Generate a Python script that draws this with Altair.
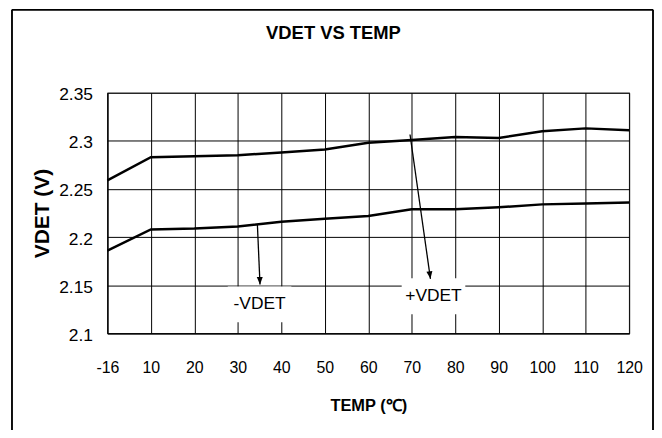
import altair as alt
import pandas as pd

# ---- data ----
TEMPS = [-16, 10, 20, 30, 40, 50, 60, 70, 80, 90, 100, 110, 120]
VDET_PLUS = [2.259, 2.283, 2.284, 2.285, 2.288, 2.291, 2.298, 2.301, 2.304, 2.303, 2.310, 2.313, 2.311]
VDET_MINUS = [2.186, 2.208, 2.209, 2.211, 2.216, 2.219, 2.222, 2.229, 2.229, 2.231, 2.234, 2.235, 2.236]
Y_TICKS = [2.1, 2.15, 2.2, 2.25, 2.3, 2.35]

# annotations (x in category-index units, y in volts)
ANN_TEXT = ["-VDET", "+VDET"]
ANN_X = [3.5, 7.5]
ANN_Y = [2.130, 2.1385]
ARROW_X0 = [3.45, 6.96]
ARROW_Y0 = [2.2128, 2.3066]
ARROW_X1 = [3.51, 7.43]
ARROW_Y1 = [2.1507, 2.1566]
ARROW_ANGLE = [358, 352]

FONT = "Liberation Sans, Arial, Helvetica, sans-serif"

idx = list(range(len(TEMPS)))
lines_df = pd.DataFrame({
    "i": idx * 2,
    "v": VDET_PLUS + VDET_MINUS,
    "s": ["+VDET"] * len(idx) + ["-VDET"] * len(idx),
})
ann_df = pd.DataFrame({"t": ANN_TEXT, "x": ANN_X, "y": ANN_Y})
arr_df = pd.DataFrame({"x0": ARROW_X0, "y0": ARROW_Y0, "x1": ARROW_X1, "y1": ARROW_Y1, "a": ARROW_ANGLE})

label_expr = "[" + ",".join("'%d'" % t for t in TEMPS) + "][datum.value]"

xscale = alt.Scale(domain=[0, len(TEMPS) - 1], nice=False, zero=False)
yscale = alt.Scale(domain=[2.1, 2.35], nice=False, zero=False)

xaxis = alt.Axis(
    values=idx, labelExpr=label_expr, grid=True, gridColor="black", gridWidth=1,
    ticks=False, tickSize=0, domainColor="black", domainWidth=1.2,
    labelFont=FONT, labelFontSize=16, labelColor="black", labelPadding=26,
    labelAngle=0, labelFlush=False, labelOverlap=False,
    title="TEMP (℃)", titleFont=FONT, titleFontSize=16.5, titleFontWeight="bold",
    titleColor="black", titleY=78, titleBaseline="alphabetic",
)
yaxis = alt.Axis(
    values=Y_TICKS, format=".2~f", grid=True, gridColor="black", gridWidth=1,
    ticks=False, tickSize=0, domainColor="black", domainWidth=1.2,
    labelFont=FONT, labelFontSize=17.5, labelColor="black", labelPadding=15,
    labelOffset=2,
    title="VDET (V)", titleFont=FONT, titleFontSize=21, titleFontWeight="bold",
    titleColor="black", titleAngle=270, titleX=-65, titleY=121,
    titleBaseline="middle", titleAlign="center",
)

base_lines = alt.Chart(lines_df).mark_line(color="black", strokeWidth=2.5).encode(
    x=alt.X("i:Q", scale=xscale, axis=xaxis),
    y=alt.Y("v:Q", scale=yscale, axis=yaxis),
    detail="s:N",
)

boxes = alt.Chart(ann_df).mark_rect(color="white", width=64, height=36).encode(
    x=alt.X("x:Q", scale=xscale), y=alt.Y("y:Q", scale=yscale)
)
texts = alt.Chart(ann_df).mark_text(font=FONT, fontSize=17.5, color="black",
                                    align="center", baseline="middle").encode(
    x=alt.X("x:Q", scale=xscale), y=alt.Y("y:Q", scale=yscale), text="t:N"
)
arrows = alt.Chart(arr_df).mark_rule(color="black", strokeWidth=1.3).encode(
    x=alt.X("x0:Q", scale=xscale), y=alt.Y("y0:Q", scale=yscale),
    x2="x1:Q", y2="y1:Q",
)
heads = alt.Chart(arr_df).mark_point(
    shape="M0,0L-0.4,-1L0.4,-1Z", filled=True, color="black", size=230, opacity=1
).encode(
    x=alt.X("x1:Q", scale=xscale), y=alt.Y("y1:Q", scale=yscale),
    angle=alt.Angle("a:Q", scale=None),
)

# outer frame (decoration)
frame_l = alt.Chart(ann_df).mark_rule(color="black", strokeWidth=1.5).encode(
    x=alt.value(-96), y=alt.value(-83.5), y2=alt.value(340))
frame_r = alt.Chart(ann_df).mark_rule(color="black", strokeWidth=1.5).encode(
    x=alt.value(549), y=alt.value(-83.5), y2=alt.value(340))
frame_t = alt.Chart(ann_df).mark_rule(color="black", strokeWidth=1.5).encode(
    x=alt.value(-96), x2=alt.value(549), y=alt.value(-83.5))

chart = alt.layer(
    boxes, texts, arrows, heads, base_lines, frame_l, frame_r, frame_t
).properties(
    width=525, height=242,
    title=alt.Title("VDET VS TEMP", font=FONT, fontSize=18.5, fontWeight="bold",
                    color="black", anchor="middle", frame="group", dx=-35,
                    offset=-49, baseline="alphabetic"),
    autosize=alt.AutoSizeParams(type="none"),
    padding={"left": 100, "top": 84, "right": 25, "bottom": 96},
    background="white",
).configure_view(stroke="#808080", strokeWidth=1.2)

chart.save("out.html", embed_options={"renderer": "svg", "actions": False})
